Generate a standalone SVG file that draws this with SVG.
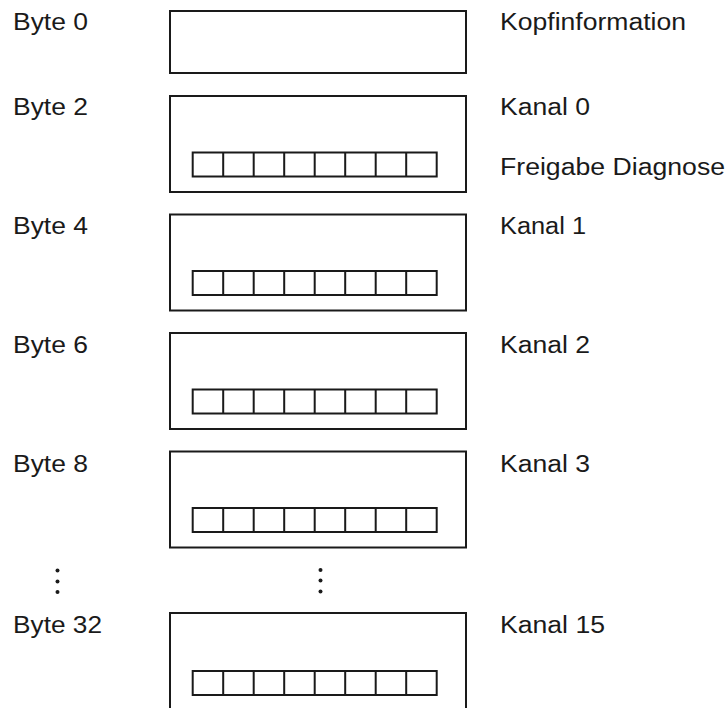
<svg xmlns="http://www.w3.org/2000/svg" width="727" height="708" viewBox="0 0 727 708">
<defs>
<style>
.box{fill:#fff;stroke:#1a1a1a;stroke-width:2}
.bit{fill:#fff;stroke:#1a1a1a;stroke-width:2}
.t{font-family:"Liberation Sans",Arial,sans-serif;font-size:23px;fill:#1a1a1a}
.dot{fill:#1a1a1a}
</style>
<g id="bits">
<rect class="bit" x="0" y="0" width="244" height="24"/>
<path d="M30.5 0V24M61 0V24M91.5 0V24M122 0V24M152.5 0V24M183 0V24M213.5 0V24" stroke="#1a1a1a" stroke-width="2" fill="none"/>
</g>
</defs>
<rect width="727" height="708" fill="#fff"/>
<g id="byte0">
<text class="t" x="13" y="29.5" textLength="75" lengthAdjust="spacingAndGlyphs">Byte 0</text>
<rect class="box" x="170" y="11" width="296" height="62"/>
<text class="t" x="500" y="29.5" textLength="186" lengthAdjust="spacingAndGlyphs">Kopfinformation</text>
</g>
<g id="byte2">
<text class="t" x="13" y="115" textLength="75" lengthAdjust="spacingAndGlyphs">Byte 2</text>
<rect class="box" x="170" y="96" width="296" height="96"/>
<use href="#bits" x="192.7" y="152.5"/>
<text class="t" x="500" y="115" textLength="90" lengthAdjust="spacingAndGlyphs">Kanal 0</text>
<text class="t" x="500" y="174.5" textLength="225" lengthAdjust="spacingAndGlyphs">Freigabe Diagnose</text>
</g>
<g id="byte4">
<text class="t" x="13" y="234" textLength="75" lengthAdjust="spacingAndGlyphs">Byte 4</text>
<rect class="box" x="170" y="214.5" width="296" height="96"/>
<use href="#bits" x="192.7" y="271"/>
<text class="t" x="500" y="234" textLength="86" lengthAdjust="spacingAndGlyphs">Kanal 1</text>
</g>
<g id="byte6">
<text class="t" x="13" y="353" textLength="75" lengthAdjust="spacingAndGlyphs">Byte 6</text>
<rect class="box" x="170" y="333" width="296" height="96"/>
<use href="#bits" x="192.7" y="389.5"/>
<text class="t" x="500" y="353" textLength="90" lengthAdjust="spacingAndGlyphs">Kanal 2</text>
</g>
<g id="byte8">
<text class="t" x="13" y="472" textLength="75" lengthAdjust="spacingAndGlyphs">Byte 8</text>
<rect class="box" x="170" y="451.5" width="296" height="96"/>
<use href="#bits" x="192.7" y="508"/>
<text class="t" x="500" y="472" textLength="90" lengthAdjust="spacingAndGlyphs">Kanal 3</text>
</g>
<g id="ellipsis">
<circle class="dot" cx="57.5" cy="570.5" r="2"/>
<circle class="dot" cx="57.5" cy="581.5" r="2"/>
<circle class="dot" cx="57.5" cy="592" r="2"/>
<circle class="dot" cx="320.5" cy="570" r="2"/>
<circle class="dot" cx="320.5" cy="580.5" r="2"/>
<circle class="dot" cx="320.5" cy="591.5" r="2"/>
</g>
<g id="byte32">
<text class="t" x="13" y="633" textLength="89" lengthAdjust="spacingAndGlyphs">Byte 32</text>
<rect class="box" x="170" y="613" width="296" height="100"/>
<use href="#bits" x="192.7" y="671"/>
<text class="t" x="500" y="633" textLength="105" lengthAdjust="spacingAndGlyphs">Kanal 15</text>
</g>
<g id="connectors"/>
</svg>
